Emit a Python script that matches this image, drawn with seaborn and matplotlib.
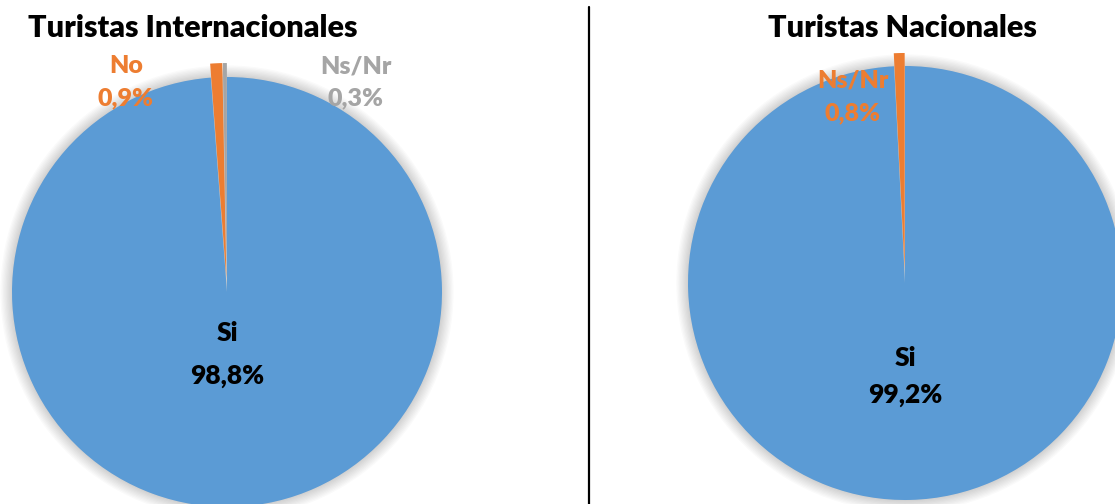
import matplotlib
matplotlib.use("Agg")
import matplotlib.pyplot as plt
import seaborn as sns
from matplotlib.patches import Circle
from matplotlib.lines import Line2D

# data
intl_labels = ["Si", "No", "Ns/Nr"]
intl_values = [98.8, 0.9, 0.3]
nat_labels = ["Si", "Ns/Nr"]
nat_values = [99.2, 0.8]

BLUE, ORANGE, GRAY = "#5B9BD5", "#ED7D31", "#A5A5A5"

sns.set_theme(style="white")
plt.rcParams['font.family'] = ['Lato', 'DejaVu Sans']

W, H = 1115, 504
SPAN = 1.3
fig = plt.figure(figsize=(W / 100, H / 100), dpi=100)


def pct(v):
    return f"{v:.1f}%".replace(".", ",")


def pie_axes(cx, cy, r):
    s = r * SPAN
    ax = fig.add_axes([(cx - s) / W, (H - cy - s) / H, 2 * s / W, 2 * s / H])
    return ax


def draw_pie(ax, values, colors, explode):
    # soft shadow round the pie
    for k in range(10):
        ax.add_patch(Circle((0, 0), 1 + 0.006 * k, color="black", alpha=0.018, lw=0, zorder=0))
    wedges, _ = ax.pie(values, colors=colors, startangle=90, counterclock=False,
                       explode=explode, radius=1,
                       wedgeprops=dict(linewidth=0, edgecolor="none"))
    for w in wedges:
        w.set_zorder(2)
    # pie() resets the limits, so fix them afterwards
    ax.set_xlim(-SPAN, SPAN)
    ax.set_ylim(-SPAN, SPAN)
    ax.set_aspect("equal")
    ax.axis("off")
    return wedges


LBL = dict(ha="center", va="center", fontweight="heavy")

# left pie: international tourists
ax1 = pie_axes(227, 292, 215)
draw_pie(ax1, intl_values, [BLUE, ORANGE, GRAY], [0, 0.065, 0.065])
ax1.text(0, -0.19, intl_labels[0], fontsize=19, color="black", **LBL)
ax1.text(0, -0.39, pct(intl_values[0]), fontsize=19, color="black", **LBL)
ax1.text(-0.47, 1.05, intl_labels[1], fontsize=18, color=ORANGE, **LBL)
ax1.text(-0.47, 0.90, pct(intl_values[1]), fontsize=18, color=ORANGE, **LBL)
ax1.text(0.60, 1.05, intl_labels[2], fontsize=18, color=GRAY, **LBL)
ax1.text(0.60, 0.90, pct(intl_values[2]), fontsize=18, color=GRAY, **LBL)

# right pie: national tourists
ax2 = pie_axes(905, 283, 217)
draw_pie(ax2, nat_values, [BLUE, ORANGE], [0, 0.06])
ax2.text(0, -0.345, nat_labels[0], fontsize=19, color="black", **LBL)
ax2.text(0, -0.515, pct(nat_values[0]), fontsize=19, color="black", **LBL)
ax2.text(-0.24, 0.935, nat_labels[1], fontsize=18, color=ORANGE, **LBL)
ax2.text(-0.24, 0.78, pct(nat_values[1]), fontsize=18, color=ORANGE, **LBL)

# titles and divider
fig.text(193 / W, 1 - 28 / H, "Turistas Internacionales", fontsize=22, color="black", **LBL)
fig.text(902 / W, 1 - 28 / H, "Turistas Nacionales", fontsize=22, color="black", **LBL)
fig.add_artist(Line2D([589 / W, 589 / W], [1 - 7 / H, 0], color="black", lw=1.6,
                      transform=fig.transFigure))

fig.savefig("out.png", dpi=100)
